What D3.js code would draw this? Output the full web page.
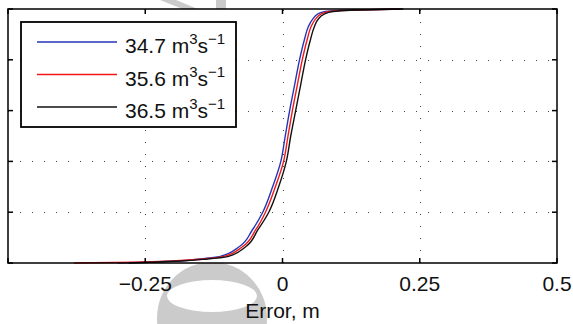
<!DOCTYPE html>
<html>
<head>
<meta charset="utf-8">
<script src="https://cdn.jsdelivr.net/npm/d3@7"></script>
<style>
  html, body { margin: 0; padding: 0; background: #fff; }
  svg { display: block; font-family: "Liberation Sans", Arial, sans-serif; }
</style>
</head>
<body>
<svg id="chart" width="573" height="324"></svg>
<script>
// cumulative probability levels (y) shared by all three curves
const probs = [0, 0.003, 0.008, 0.015, 0.025, 0.064, 0.13, 0.2, 0.3, 0.4, 0.5, 0.6, 0.7, 0.8, 0.88, 0.93, 0.96, 0.98, 0.99, 0.995, 1];

// error values (x) for each discharge
const err347 = [-0.30, -0.25, -0.19, -0.155, -0.115, -0.079, -0.055, -0.036, -0.018, -0.003, 0.005, 0.013, 0.022, 0.031, 0.040, 0.047, 0.055, 0.064, 0.078, 0.11, 0.21];
const err356 = [-0.38, -0.27, -0.20, -0.15, -0.108, -0.073, -0.049, -0.031, -0.013, 0.002, 0.010, 0.018, 0.027, 0.036, 0.045, 0.052, 0.060, 0.070, 0.085, 0.12, 0.215];
const err365 = [-0.28, -0.24, -0.185, -0.14, -0.10, -0.067, -0.045, -0.025, -0.007, 0.007, 0.015, 0.024, 0.033, 0.042, 0.051, 0.058, 0.065, 0.076, 0.092, 0.125, 0.22];

const seriesNames = ['34.7', '35.6', '36.5'];
const seriesColors = ['#2436b8', '#f01818', '#111111'];
const xTicks = [-0.5, -0.25, 0, 0.25, 0.5];
const xTickLabels = ['', '\u22120.25', '0', '0.25', '0.5'];
const yTicks = [0, 0.2, 0.4, 0.6, 0.8, 1];

const svg = d3.select('#chart');
const x = d3.scaleLinear().domain([-0.5, 0.5]).range([8, 557]);
const y = d3.scaleLinear().domain([0, 1]).range([263, 9]);

// faint watermark behind the figure
const wm = svg.append('g').attr('fill', '#cbcbcb');
wm.append('path')
  .attr('fill-rule', 'evenodd')
  .attr('d', 'M157,318 A55,56 0 1,1 267,318 A55,56 0 1,1 157,318 Z M167,296 A45,16 0 1,0 257,296 A45,16 0 1,0 167,296 Z');
wm.append('path').attr('d', 'M160,0 L176,0 L205,12 L190,12 Z');
wm.append('rect').attr('x', 216).attr('y', 0).attr('width', 10).attr('height', 9);

// plot area
svg.append('rect')
  .attr('x', x(-0.5)).attr('y', y(1))
  .attr('width', x(0.5) - x(-0.5)).attr('height', y(0) - y(1))
  .attr('fill', '#fff');

// dotted grid
const grid = svg.append('g')
  .attr('stroke', '#444').attr('stroke-width', 1).attr('stroke-dasharray', '1,11');
grid.selectAll('.gx').data(xTicks.slice(1, -1)).join('line')
  .attr('x1', d => Math.round(x(d)) + 0.5).attr('x2', d => Math.round(x(d)) + 0.5)
  .attr('y1', y(0)).attr('y2', y(1));
grid.selectAll('.gy').data(yTicks.slice(1, -1)).join('line')
  .attr('y1', d => Math.round(y(d)) + 0.5).attr('y2', d => Math.round(y(d)) + 0.5)
  .attr('x1', x(-0.5)).attr('x2', x(0.5));

// curves
const line = d3.line()
  .x(d => x(d[0]))
  .y(d => y(d[1]))
  .curve(d3.curveMonotoneY);

[err347, err356, err365].forEach((errs, i) => {
  svg.append('path')
    .datum(errs.map((e, j) => [e, probs[j]]))
    .attr('fill', 'none')
    .attr('stroke', seriesColors[i])
    .attr('stroke-width', 1.4)
    .attr('d', line);
});

// axes (MATLAB box with inward ticks)
const tickLen = 5;
const axes = svg.append('g').attr('stroke', '#000').attr('stroke-width', 1.5);
axes.append('rect')
  .attr('x', x(-0.5)).attr('y', y(1))
  .attr('width', x(0.5) - x(-0.5)).attr('height', y(0) - y(1))
  .attr('fill', 'none');
axes.selectAll('.tb').data(xTicks).join('line')
  .attr('x1', d => x(d)).attr('x2', d => x(d))
  .attr('y1', y(0)).attr('y2', y(0) - tickLen);
axes.selectAll('.tt').data(xTicks).join('line')
  .attr('x1', d => x(d)).attr('x2', d => x(d))
  .attr('y1', y(1)).attr('y2', y(1) + tickLen);
axes.selectAll('.tl').data(yTicks).join('line')
  .attr('y1', d => y(d)).attr('y2', d => y(d))
  .attr('x1', x(-0.5)).attr('x2', x(-0.5) + tickLen);
axes.selectAll('.tr').data(yTicks).join('line')
  .attr('y1', d => y(d)).attr('y2', d => y(d))
  .attr('x1', x(0.5)).attr('x2', x(0.5) - tickLen);

svg.append('g').selectAll('text').data(xTicks).join('text')
  .attr('x', d => x(d))
  .attr('y', 291)
  .attr('text-anchor', 'middle')
  .attr('font-size', 21)
  .attr('fill', '#111')
  .text((d, i) => xTickLabels[i]);

svg.append('text')
  .attr('x', x(0)).attr('y', 318)
  .attr('text-anchor', 'middle')
  .attr('font-size', 21)
  .attr('fill', '#111')
  .text('Error, m');

// legend
const legend = svg.append('g');
legend.append('rect')
  .attr('x', 21).attr('y', 22).attr('width', 215).attr('height', 105)
  .attr('fill', '#fff').attr('stroke', '#000').attr('stroke-width', 1.8);
const rows = legend.selectAll('.row').data(seriesNames).join('g')
  .attr('transform', (d, i) => `translate(0,${42 + i * 32.5})`);
rows.append('line')
  .attr('x1', 37).attr('x2', 117)
  .attr('stroke', (d, i) => seriesColors[i]).attr('stroke-width', 1.4);
const lab = rows.append('text')
  .attr('x', 125).attr('y', 11)
  .attr('font-size', 21).attr('fill', '#111');
lab.append('tspan').text(d => d + ' m');
lab.append('tspan').attr('dy', -9).attr('font-size', 15).text('3');
lab.append('tspan').attr('dy', 9).text('s');
lab.append('tspan').attr('dy', -9).attr('font-size', 15).text('\u22121');
</script>
</body>
</html>
